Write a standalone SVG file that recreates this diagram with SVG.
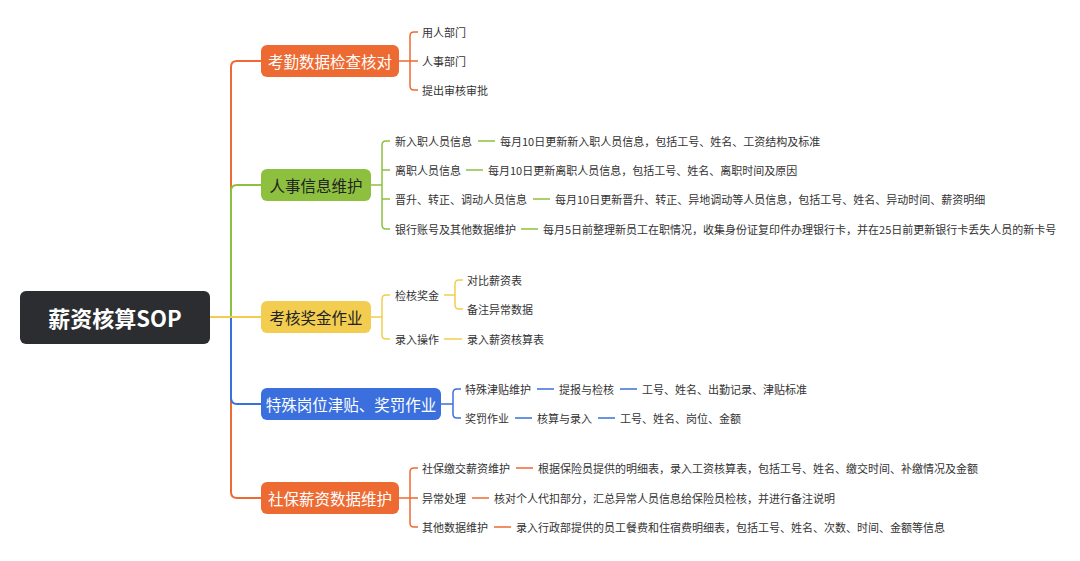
<svg xmlns="http://www.w3.org/2000/svg" width="1080" height="561" viewBox="0 0 1080 561">
<style>
text{font-family:"Noto Sans CJK SC","Noto Sans",sans-serif}
.t{font-size:11px;fill:#333;dominant-baseline:central}
.b{font-size:15.5px;dominant-baseline:central;text-anchor:middle}
.l{fill:none;stroke-width:2}
.o{stroke:#ee6a33}.g{stroke:#8dc03f}.y{stroke:#f2cd4f}.u{stroke:#3a6fdd}
.s{stroke-width:1.5}
</style>
<rect width="1080" height="561" fill="#fff"/>
<g id="connectors">
<path class="l o" d="M210,317H231V67Q231,61 237,61H261"/>
<path class="l g" d="M210,317H231V191Q231,185 237,185H261"/>
<path class="l o" d="M210,317H231V492Q231,498 237,498H261"/>
<path class="l u" d="M210,317H231V398Q231,404 237,404H261"/>
<path class="l y" d="M210,317H261"/>
<g class="s" fill="none">
<path class="o" d="M399,61H410M418,32H414Q410,32 410,36V86Q410,90 414,90H418M410,61H418"/>
<path class="g" d="M371,185H382M390,141H386Q382,141 382,145V225Q382,229 386,229H390M382,170H390M382,199H390"/>
<path class="g" d="M478,141H495M466,170H483M533,199H550M521,229H538"/>
<path class="y" d="M371,317H382M390,295H386Q382,295 382,299V335Q382,339 386,339H390"/>
<path class="y" d="M444,295H455M463,280H459Q455,280 455,284V305Q455,309 459,309H463M444,339H462"/>
<path class="u" d="M441,404H453M461,389H457Q453,389 453,393V414Q453,418 457,418H461"/>
<path class="u" d="M537,389H554M620,389H637M515,418H532M598,418H615"/>
<path class="o" d="M399,498H410M418,468H414Q410,468 410,472V523Q410,527 414,527H418M410,498H418"/>
<path class="o" d="M516,468H533M472,498H489M494,527H511"/>
</g>
</g>
<g id="root"><rect x="20" y="291" width="190" height="53" rx="6" fill="#2b2d30"/><text x="115" y="317" class="b" style="font-size:22px;font-weight:bold" fill="#fff">薪资核算SOP</text></g>
<g id="n1"><rect x="261" y="45" width="138" height="32" rx="6" fill="#ee6a33"/><text x="330" y="61" class="b" fill="#fff">考勤数据检查核对</text></g>
<g id="n2"><rect x="261" y="169" width="110" height="32" rx="6" fill="#8dc03f"/><text x="316" y="185" class="b" fill="#222">人事信息维护</text></g>
<g id="n3"><rect x="261" y="301" width="110" height="32" rx="6" fill="#f2cd4f"/><text x="316" y="317" class="b" fill="#222">考核奖金作业</text></g>
<g id="n4"><rect x="261" y="388" width="180" height="32" rx="6" fill="#3a6fdd"/><text x="351" y="404" class="b" fill="#fff">特殊岗位津贴、奖罚作业</text></g>
<g id="n5"><rect x="261" y="482" width="138" height="32" rx="6" fill="#ee6a33"/><text x="330" y="498" class="b" fill="#fff">社保薪资数据维护</text></g>
<g id="leaves">
<text class="t" x="422" y="32">用人部门</text>
<text class="t" x="422" y="61">人事部门</text>
<text class="t" x="422" y="90">提出审核审批</text>
<text class="t" x="395" y="141">新入职人员信息</text>
<text class="t" x="500" y="141">每月10日更新新入职人员信息，包括工号、姓名、工资结构及标准</text>
<text class="t" x="395" y="170">离职人员信息</text>
<text class="t" x="488" y="170">每月10日更新离职人员信息，包括工号、姓名、离职时间及原因</text>
<text class="t" x="395" y="199">晋升、转正、调动人员信息</text>
<text class="t" x="555" y="199">每月10日更新晋升、转正、异地调动等人员信息，包括工号、姓名、异动时间、薪资明细</text>
<text class="t" x="395" y="229">银行账号及其他数据维护</text>
<text class="t" x="543" y="229">每月5日前整理新员工在职情况，收集身份证复印件办理银行卡，并在25日前更新银行卡丢失人员的新卡号</text>
<text class="t" x="395" y="295">检核奖金</text>
<text class="t" x="467" y="280">对比薪资表</text>
<text class="t" x="467" y="309">备注异常数据</text>
<text class="t" x="395" y="339">录入操作</text>
<text class="t" x="467" y="339">录入薪资核算表</text>
<text class="t" x="465" y="389">特殊津贴维护</text>
<text class="t" x="559" y="389">提报与检核</text>
<text class="t" x="642" y="389">工号、姓名、出勤记录、津贴标准</text>
<text class="t" x="465" y="418">奖罚作业</text>
<text class="t" x="537" y="418">核算与录入</text>
<text class="t" x="620" y="418">工号、姓名、岗位、金额</text>
<text class="t" x="422" y="468">社保缴交薪资维护</text>
<text class="t" x="538" y="468">根据保险员提供的明细表，录入工资核算表，包括工号、姓名、缴交时间、补缴情况及金额</text>
<text class="t" x="422" y="498">异常处理</text>
<text class="t" x="494" y="498">核对个人代扣部分，汇总异常人员信息给保险员检核，并进行备注说明</text>
<text class="t" x="422" y="527">其他数据维护</text>
<text class="t" x="516" y="527">录入行政部提供的员工餐费和住宿费明细表，包括工号、姓名、次数、时间、金额等信息</text>
</g>
</svg>
